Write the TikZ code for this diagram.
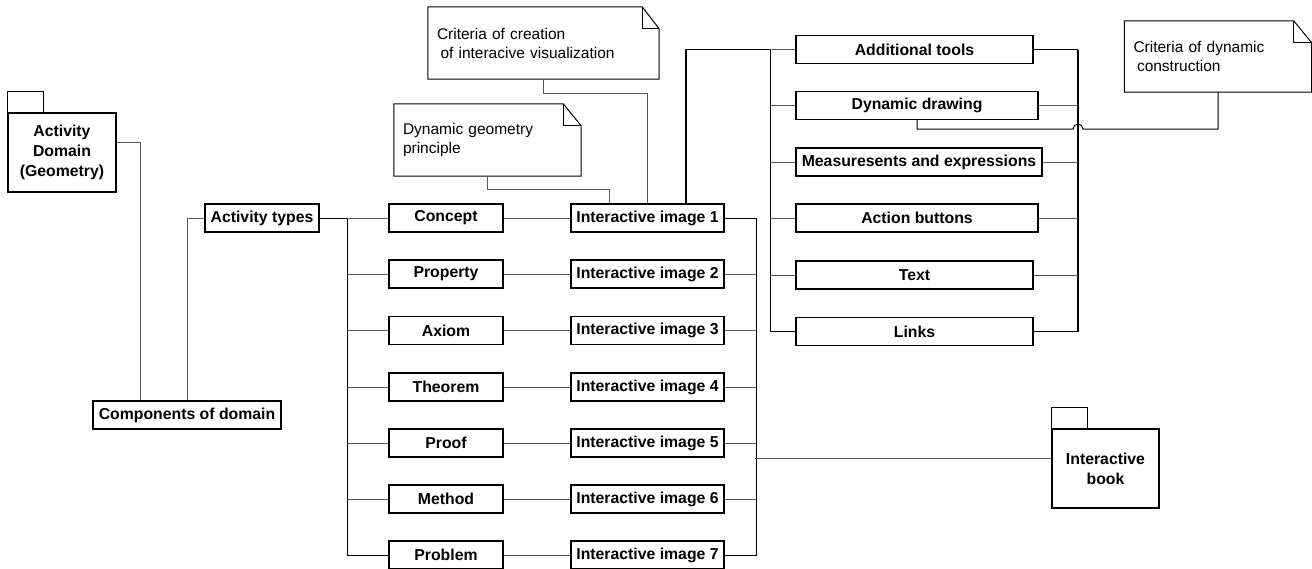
\documentclass[tikz,border=0pt]{standalone}
\usepackage{fontspec}
\setmainfont{Liberation Sans}
\begin{document}
\begin{tikzpicture}[x=1pt,y=-1pt,
  box/.style={draw=black,line width=1.2pt,fill=white,minimum height=28pt,inner sep=0pt,
    font=\fontsize{15.8}{20}\selectfont\bfseries},
  tab/.style={draw=black,line width=1.2pt,fill=white},
  note/.style={inner xsep=9pt,inner ysep=0pt,align=left,
    font=\fontsize{15.5}{19}\selectfont},
  noteline/.style={draw=black,line width=1pt},
  conn/.style={draw=black!65,line width=1pt},
  trunk/.style={draw=black,line width=1pt},
  heavy/.style={draw=black,line width=1.8pt},
]
\useasboundingbox (0,0) rectangle (1312,568);

% outline of a note with a folded top-right corner
\newcommand\notecorner[3]{%
  \draw[noteline] (#1.south west) -- (#1.north west) -- ([xshift=-#2]#1.north east)
    -- ([yshift=-#3]#1.north east) -- (#1.south east) -- cycle;
  \draw[noteline] ([xshift=-#2]#1.north east) |- ([yshift=-#3]#1.north east);
}

% ---------- domain packages ----------
\node[box,minimum width=108pt,minimum height=79pt,align=center] (adom) at (62,152.5)
  {Activity\\Domain\\(Geometry)};
\draw[tab] (adom.north west) rectangle ++(36,-21);

\node[box,minimum width=107pt,minimum height=79pt,align=center] (book) at (1105.5,468.5)
  {Interactive\\book};
\draw[tab] (book.north west) rectangle ++(36,-21);

\node[box,minimum width=188pt] (comp) at (187,415) {Components of domain};
\node[box,minimum width=114pt] (types) at (262,218) {Activity types};

% ---------- activity kinds ----------
\node[box,minimum width=114pt] (concept) at (446,218)   {Concept};
\node[box,minimum width=114pt] (prop)    at (446,274)   {Property};
\node[box,minimum width=114pt] (axiom)   at (446,330.5) {Axiom};
\node[box,minimum width=114pt] (theorem) at (446,387)   {Theorem};
\node[box,minimum width=114pt] (proof)   at (446,443)   {Proof};
\node[box,minimum width=114pt] (method)  at (446,499)   {Method};
\node[box,minimum width=114pt] (problem) at (446,555)   {Problem};

% ---------- interactive images ----------
\node[box,minimum width=153pt] (img1) at (647.5,218)   {Interactive image 1};
\node[box,minimum width=153pt] (img2) at (647.5,274)   {Interactive image 2};
\node[box,minimum width=153pt] (img3) at (647.5,330.5) {Interactive image 3};
\node[box,minimum width=153pt] (img4) at (647.5,387)   {Interactive image 4};
\node[box,minimum width=153pt] (img5) at (647.5,443)   {Interactive image 5};
\node[box,minimum width=153pt] (img6) at (647.5,499)   {Interactive image 6};
\node[box,minimum width=153pt] (img7) at (647.5,555)   {Interactive image 7};

% ---------- tools ----------
\node[box,minimum width=237pt] (at) at (914.5,49.5) {Additional tools};
\node[box,minimum width=242pt] (dd) at (917,105.5)  {Dynamic drawing};
\node[box,minimum width=246pt] (me) at (919,162)    {Measuresents and expressions};
\node[box,minimum width=242pt] (ab) at (917,218)    {Action buttons};
\node[box,minimum width=237pt] (tx) at (914.5,275)  {Text};
\node[box,minimum width=237pt] (lk) at (914.5,331.5){Links};

% ---------- notes ----------
\node[note,minimum height=72pt,text width=213pt] (cnote) at (543.5,43)
  {Criteria of creation\\\hspace*{3.5pt}of interacive visualization};
\notecorner{cnote}{17pt}{22pt}
\node[note,minimum height=72pt,text width=169pt] (gnote) at (487.5,140)
  {Dynamic geometry\\principle};
\notecorner{gnote}{18pt}{22pt}
\node[note,minimum height=71pt,text width=169pt] (dnote) at (1218,56.5)
  {Criteria of dynamic\\\hspace*{3.5pt}construction};
\notecorner{dnote}{18pt}{22pt}

% ---------- connectors: domain ----------
\draw[conn] ([yshift=10.5pt]adom.east) -| ([xshift=-47pt]comp.north);
\draw[conn] (types.west) -| (comp.north);

% left trunk of activity kinds
\coordinate (lt) at (347,218);
\draw[trunk] (types.east) -- (lt);
\draw[trunk] (lt) |- (problem.west);
\foreach \n in {concept,prop,axiom,theorem,proof,method}
  \draw[conn] (lt |- \n.west) -- (\n.west);

% kinds to images
\foreach \a/\b in {concept/img1,prop/img2,axiom/img3,theorem/img4,proof/img5,method/img6,problem/img7}
  \draw[conn] (\a.east) -- (\b.west);

% right trunk of images
\coordinate (rt) at (756,218);
\draw[trunk] (img1.east) -- (rt) |- (img7.east);
\foreach \n in {img2,img3,img4,img5,img6}
  \draw[conn] (\n.east) -- (rt |- \n.east);
\draw[conn] ([yshift=10.5pt]book.west) -- ++(-296,0);

% notes to image 1
\draw[conn] (cnote.south) -- ++(0,14) -| (img1.north);
\draw[conn] (gnote.south) -- ++(0,13) -| ([xshift=-38.5pt]img1.north);

% image 1 to the tools
\coordinate (tl) at (770,49.5);
\coordinate (tr) at (1078,49.5);
\draw[heavy] ([xshift=38.5pt]img1.north) |- (tl);
\draw[trunk] (tl) |- (lk.west);
\draw[conn] (tl) -- (at.west);
\foreach \n in {dd,me,ab,tx}
  \draw[conn] (tl |- \n.west) -- (\n.west);
\draw[heavy] (at.east) -- (tr);
\draw[draw=black,line width=1.5pt] (tr) |- (lk.east);
\foreach \n in {dd,me,ab,tx}
  \draw[conn] (\n.east) -- (tr |- \n.east);

% dynamic drawing to its note, hopping over the trunk
\coordinate (hop) at (1073,129);
\draw[trunk] (dd.south) |- (hop) arc[start angle=180,end angle=0,radius=5pt] -| (dnote.south);
\end{tikzpicture}
\end{document}
